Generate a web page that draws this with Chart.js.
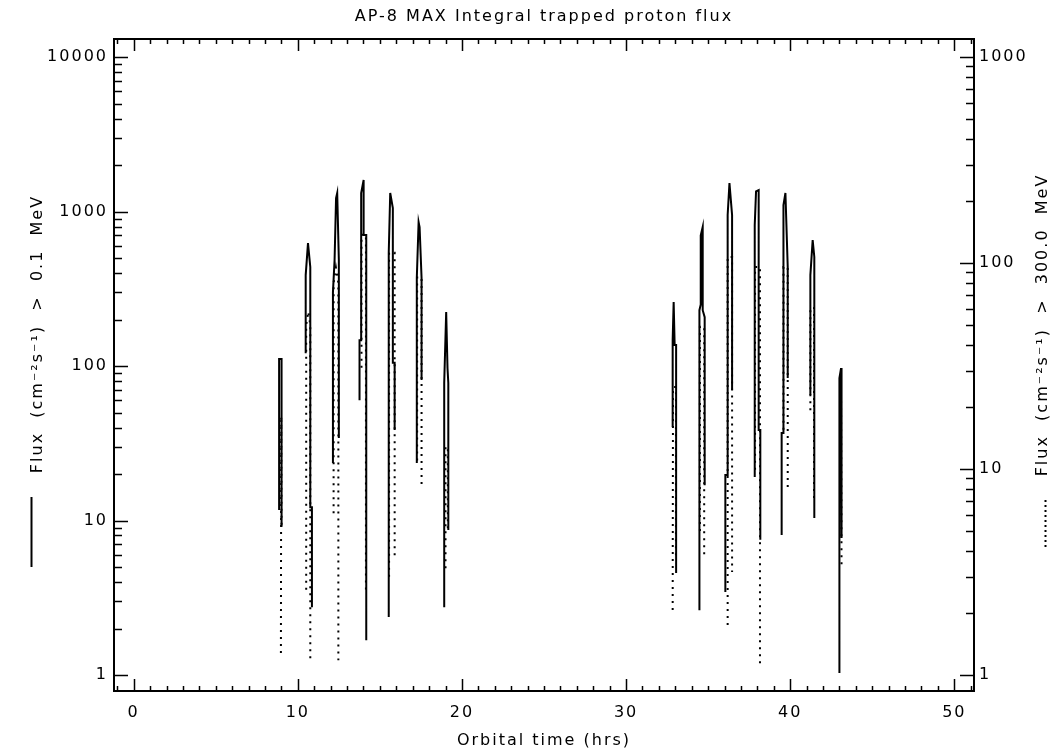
<!DOCTYPE html>
<html>
<head>
<meta charset="utf-8">
<script src="https://cdn.jsdelivr.net/npm/chart.js@4.4.1/dist/chart.umd.min.js"></script>
<style>
  html, body { margin: 0; padding: 0; background: #fff; }
</style>
</head>
<body>
<canvas id="chart" width="1057" height="755"></canvas>
<script>
// one sub-array per pass through the SAA, orbital time in hrs
const solidTime = [
  [8.86, 8.86, 9.01, 9.01],
  [10.48, 10.48, 10.62, 10.76, 10.76, 10.86, 10.86],
  [12.14, 12.14, 12.24, 12.33, 12.40, 12.50, 12.50],
  [13.76, 13.76, 13.86, 13.86, 14.01, 14.01, 14.17, 14.17],
  [15.54, 15.54, 15.63, 15.79, 15.79, 15.90, 15.90],
  [17.25, 17.25, 17.36, 17.42, 17.54, 17.54],
  [18.92, 18.92, 19.04, 19.12, 19.17, 19.17],
  [32.84, 32.84, 32.90, 32.96, 33.05, 33.05],
  [34.47, 34.47, 34.55, 34.55, 34.67, 34.67, 34.79, 34.79],
  [36.05, 36.05, 36.19, 36.19, 36.30, 36.46, 36.46],
  [37.84, 37.84, 37.92, 38.08, 38.08, 38.18, 38.18],
  [39.48, 39.48, 39.59, 39.59, 39.71, 39.85, 39.85],
  [41.23, 41.23, 41.37, 41.47, 41.47],
  [43.00, 43.00, 43.10, 43.13, 43.13]
];
// flux > 0.1 MeV (left axis)
const solidFlux = [
  [11.7, 111, 111, 9.1],
  [121, 388, 625, 437, 12.2, 12.2, 2.75],
  [23.6, 301, 485, 1222, 1318, 485, 34.2],
  [60, 147, 147, 1318, 1600, 705, 705, 1.68],
  [2.37, 539, 1318, 1054, 105, 105, 38.5],
  [23.6, 371, 855, 794, 371, 81.2],
  [2.75, 77.6, 224, 97, 77.6, 8.68],
  [40.3, 147, 260, 137, 137, 4.57],
  [2.63, 230, 250, 700, 794, 230, 207, 16.9],
  [3.44, 19.7, 19.7, 949, 1528, 949, 70],
  [19.1, 818, 1350, 1377, 38.5, 38.5, 7.5],
  [8.06, 36.8, 36.8, 1102, 1318, 437, 83.6],
  [64.9, 388, 654, 508, 10.4],
  [1.03, 83.6, 97, 83.6, 7.7]
];
const dotTime = [
  [8.97, 8.99, 9.01],
  [10.51, 10.51, 10.64, 10.76, 10.76],
  [12.18, 12.18, 12.32, 12.47, 12.47],
  [13.88, 13.88, 14.15, 14.15],
  [15.56, 15.56, 15.90, 15.90],
  [17.27, 17.27, 17.54, 17.54],
  [19.00, 19.00, 19.14, 19.14],
  [32.84, 32.86, 33.04, 33.04],
  [34.50, 34.50, 34.76, 34.76],
  [36.19, 36.19, 36.46, 36.46],
  [37.86, 37.86, 38.16, 38.16],
  [39.59, 39.59, 39.85, 39.85],
  [41.23, 41.23, 41.45, 41.45],
  [43.05, 43.10, 43.13]
];
// flux > 300 MeV (right axis)
const dotFlux = [
  [1.28, 18, 5.2],
  [2.59, 50, 58, 50, 1.16],
  [6.1, 80, 95, 80, 1.18],
  [31, 137, 137, 2.5],
  [3.0, 112, 112, 3.6],
  [11, 85, 85, 8.1],
  [3.3, 12.8, 12.8, 5],
  [2.07, 25, 25, 3.6],
  [5, 49, 49, 3.74],
  [1.75, 107, 107, 3.16],
  [9.9, 95.6, 95.6, 1.14],
  [15.5, 95.6, 95.6, 7.73],
  [19.3, 60.5, 60.5, 7],
  [10, 21.6, 3.34]
];

const xTicks = [0, 10, 20, 30, 40, 50];
const leftTicks = [1, 10, 100, 1000, 10000];
const rightTicks = [1, 10, 100, 1000];

const leftTitle = 'Flux  (cm\u207B\u00B2s\u207B\u00B9)  >  0.1  MeV';
const rightTitle = 'Flux  (cm\u207B\u00B2s\u207B\u00B9)  >  300.0  MeV';

const font = { family: 'DejaVu Sans', size: 16, weight: 'normal' };

// join the passes, with a null point between them so the line breaks
function buildPoints(times, fluxes) {
  const pts = [];
  times.forEach((pass, p) => {
    pass.forEach((t, i) => pts.push({ x: t, y: fluxes[p][i] }));
    pts.push({ x: pass[pass.length - 1], y: null });
  });
  return pts;
}

// box, inward ticks (IDL style) and the two rotated axis titles
const idlFrame = {
  id: 'idlFrame',
  beforeDraw(chart) {
    // the IDL vector font is wide, spread the letters a bit
    chart.ctx.letterSpacing = '2px';
  },
  afterDraw(chart) {
    const { ctx, chartArea: a, scales } = chart;
    ctx.save();
    ctx.strokeStyle = '#000';
    ctx.lineWidth = 2;
    ctx.strokeRect(a.left, a.top, a.right - a.left, a.bottom - a.top);

    ctx.lineWidth = 1.5;
    ctx.beginPath();
    for (let h = -1; h <= 51; h++) {
      const x = Math.round(scales.x.getPixelForValue(h)) + 0.5;
      const len = h % 10 === 0 ? 12 : 5;
      ctx.moveTo(x, a.bottom); ctx.lineTo(x, a.bottom - len);
      ctx.moveTo(x, a.top); ctx.lineTo(x, a.top + len);
    }
    const logTicks = (scale, x0, dir) => {
      for (let d = 0; d <= 4; d++) {
        for (let m = 1; m <= 9; m++) {
          const v = m * Math.pow(10, d);
          if (v > scale.max) continue;
          const y = Math.round(scale.getPixelForValue(v)) + 0.5;
          const len = m === 1 ? 14 : 8;
          ctx.moveTo(x0, y); ctx.lineTo(x0 + dir * len, y);
        }
      }
    };
    logTicks(scales.y, a.left, 1);
    logTicks(scales.y2, a.right, -1);
    ctx.stroke();

    ctx.fillStyle = '#000';
    ctx.font = '16px "DejaVu Sans"';
    ctx.letterSpacing = '2px';
    ctx.textAlign = 'center';
    ctx.textBaseline = 'middle';
    ctx.save();
    ctx.translate(38, 334);
    ctx.rotate(-Math.PI / 2);
    ctx.fillText(leftTitle, 0, 0);
    ctx.restore();
    ctx.save();
    ctx.translate(1043, 325);
    ctx.rotate(-Math.PI / 2);
    ctx.fillText(rightTitle, 0, 0);
    ctx.restore();

    // line style samples
    ctx.lineWidth = 2;
    ctx.beginPath();
    ctx.moveTo(31.5, 497); ctx.lineTo(31.5, 567);
    ctx.stroke();
    ctx.setLineDash([2, 3]);
    ctx.beginPath();
    ctx.moveTo(1045.5, 500); ctx.lineTo(1045.5, 547);
    ctx.stroke();
    ctx.restore();
  }
};

new Chart('chart', {
  type: 'line',
  data: {
    datasets: [
      {
        data: buildPoints(solidTime, solidFlux),
        yAxisID: 'y',
        borderColor: '#000',
        borderWidth: 2,
        pointRadius: 0,
        tension: 0,
        spanGaps: false
      },
      {
        data: buildPoints(dotTime, dotFlux),
        yAxisID: 'y2',
        borderColor: '#000',
        borderWidth: 2,
        borderDash: [2, 5],
        pointRadius: 0,
        tension: 0,
        spanGaps: false
      }
    ]
  },
  options: {
    responsive: false,
    animation: false,
    layout: { padding: 0 },
    plugins: {
      legend: { display: false },
      tooltip: { enabled: false },
      title: {
        display: true,
        fullSize: false,
        text: 'AP-8 MAX Integral trapped proton flux',
        color: '#000',
        font: font,
        padding: { top: 7, bottom: 12.8 }
      }
    },
    scales: {
      x: {
        type: 'linear',
        min: -1.2,
        max: 51.2,
        grid: { display: false, drawTicks: false },
        border: { display: false },
        afterBuildTicks: s => { s.ticks = xTicks.map(v => ({ value: v })); },
        afterFit: s => { s.height = 64; },
        ticks: { color: '#000', font: font, padding: 12, maxRotation: 0, autoSkip: false },
        title: { display: true, text: 'Orbital time (hrs)', color: '#000', font: font, padding: { top: 0, bottom: 5 } }
      },
      y: {
        type: 'logarithmic',
        position: 'left',
        min: 0.788,
        max: 13090,
        grid: { display: false, drawTicks: false },
        border: { display: false },
        afterBuildTicks: s => { s.ticks = leftTicks.map(v => ({ value: v })); },
        afterFit: s => { s.width = 114; },
        ticks: { color: '#000', font: font, padding: 6, autoSkip: false, callback: v => String(v) }
      },
      y2: {
        type: 'logarithmic',
        position: 'right',
        min: 0.836,
        max: 1222,
        grid: { display: false, drawTicks: false },
        border: { display: false },
        afterBuildTicks: s => { s.ticks = rightTicks.map(v => ({ value: v })); },
        afterFit: s => { s.width = 83; },
        ticks: { color: '#000', font: font, padding: 5, autoSkip: false, callback: v => String(v) }
      }
    }
  },
  plugins: [idlFrame]
});
</script>
</body>
</html>
